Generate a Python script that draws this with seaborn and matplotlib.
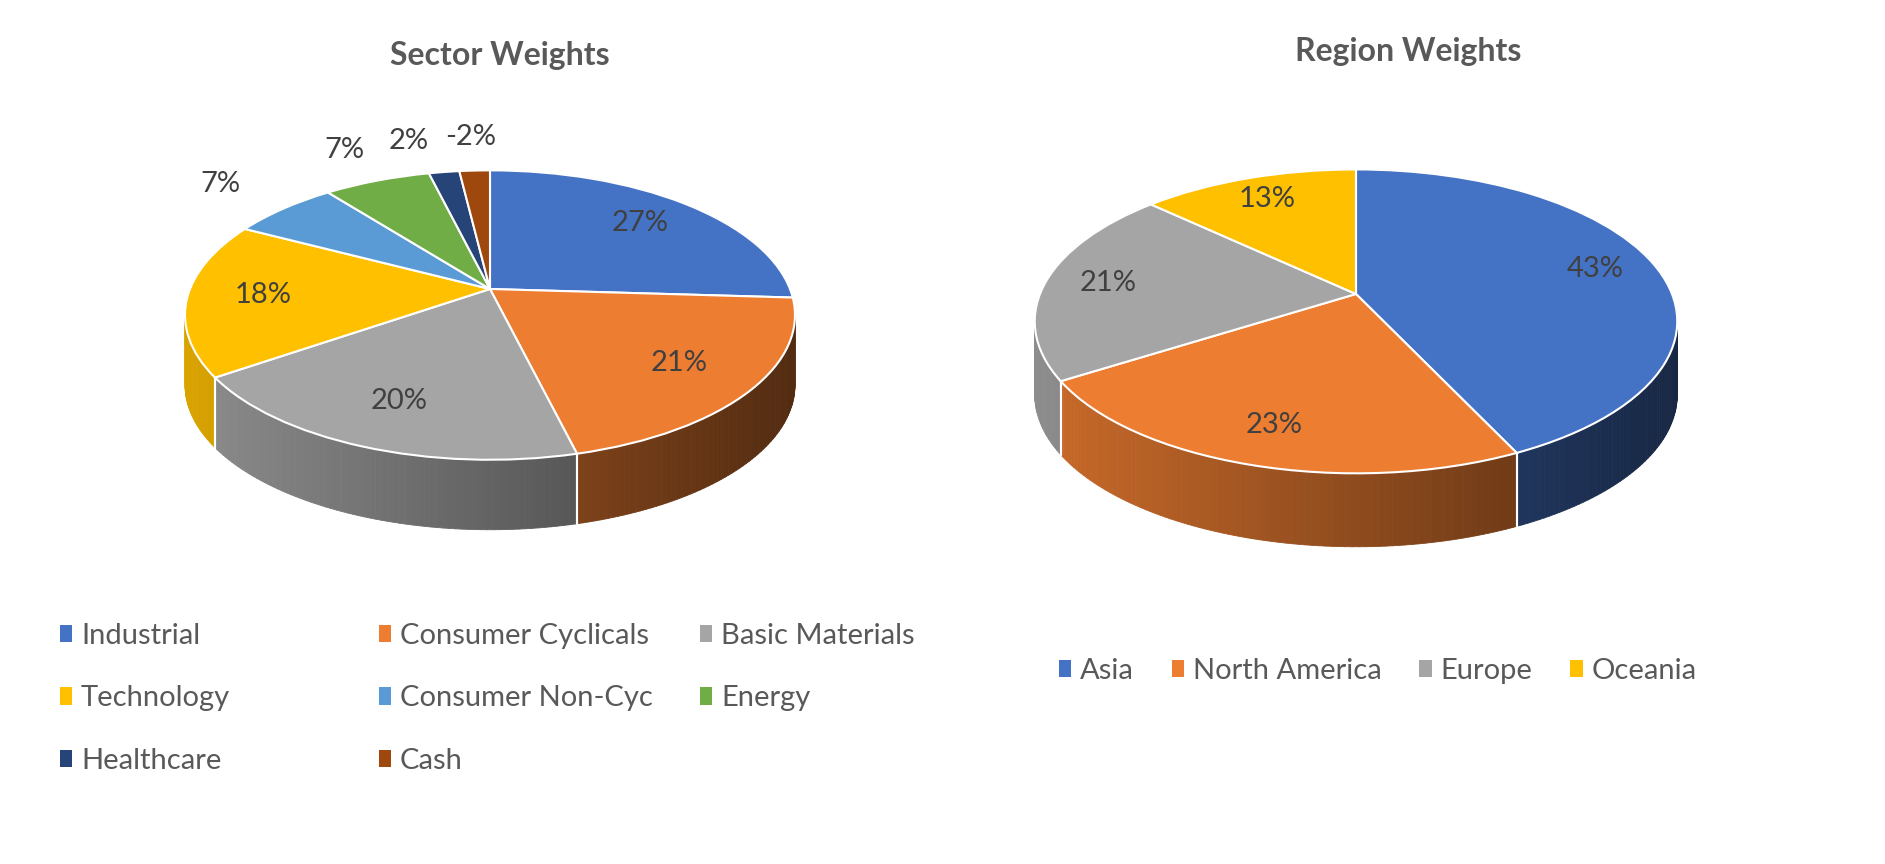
# Portfolio weights - two Excel style 3D pies (sector and region)

import numpy as np
import matplotlib
matplotlib.use("Agg")
import matplotlib.pyplot as plt
from matplotlib.patches import Patch
from matplotlib.collections import PolyCollection
from matplotlib.colors import to_rgb
from matplotlib.transforms import Transform
import seaborn as sns


# ------------------------------------------------------------
# 1. Data
# ------------------------------------------------------------

SECTOR_NAMES = ["Industrial", "Consumer Cyclicals", "Basic Materials", "Technology",
                "Consumer Non-Cyc", "Energy", "Healthcare", "Cash"]
SECTOR_WEIGHTS = [27, 21, 20, 18, 7, 7, 2, -2]
SECTOR_COLORS = ["#4472C4", "#ED7D31", "#A5A5A5", "#FFC000",
                 "#5B9BD5", "#70AD47", "#264478", "#9E480E"]

REGION_NAMES = ["Asia", "North America", "Europe", "Oceania"]
REGION_WEIGHTS = [43, 23, 21, 13]
REGION_COLORS = ["#4472C4", "#ED7D31", "#A5A5A5", "#FFC000"]

W, H = 1885, 864
TILT = 0.18      # perspective: far edge looks smaller than near edge
DEPTH = 0.5
LABEL_COLOR = "#404040"
TEXT_COLOR = "#595959"


# ------------------------------------------------------------
# 2. Helpers
# ------------------------------------------------------------

class TiltTransform(Transform):
    """Simple perspective squash of the unit pie (y > 0 is the far side)."""
    input_dims = output_dims = 2

    def __init__(self, k):
        super().__init__()
        self.k = k

    def transform_non_affine(self, xy):
        xy = np.atleast_2d(np.asarray(xy, float))
        d = 1 + self.k * xy[:, 1]
        return np.column_stack([xy[:, 0] / d, xy[:, 1] / d])


def draw_3d_pie(fig, apex_px, scale_px, values, colors, inner_r, outer_r):
    cx, cy = apex_px
    a, c = scale_px
    x0, x1, y0, y1 = -1.45, 1.45, -1.9, 1.6
    ax = fig.add_axes([(cx + x0 * a) / W, 1 - (cy - y0 * c) / H,
                       (x1 - x0) * a / W, (y1 - y0) * c / H])
    tilt = TiltTransform(TILT)

    sizes = np.abs(values)
    wedges, _ = ax.pie(sizes, colors=colors, startangle=90, counterclock=False,
                       wedgeprops=dict(edgecolor="white", linewidth=1.5, zorder=3))
    for w in wedges:
        w.set_transform(tilt + ax.transData)
    ax.set_aspect("auto")
    ax.set_xlim(x0, x1)
    ax.set_ylim(y0, y1)
    ax.axis("off")

    def rim(t):
        r = np.deg2rad(t)
        return tilt.transform([[np.cos(r), np.sin(r)]])[0]

    # front wall, split in thin strips so the shading can run left to right
    polys, fcs = [], []
    for w, col in zip(wedges, colors):
        base = np.array(to_rgb(col))
        steps = np.append(np.arange(w.theta1, w.theta2, 1.0), w.theta2)
        for t0, t1 in zip(steps[:-1], steps[1:]):
            if np.sin(np.deg2rad((t0 + t1) / 2)) >= -TILT:
                continue
            p0, p1 = rim(t0), rim(t1)
            polys.append([p0, p1, p1 - [0, DEPTH], p0 - [0, DEPTH]])
            shade = 0.6 - 0.25 * (p0[0] + p1[0]) / 2
            fcs.append(np.clip(base * shade, 0, 1))
    ax.add_collection(PolyCollection(polys, facecolors=fcs, edgecolors=fcs,
                                     linewidths=0.6, zorder=1))

    # white seams between slices on the wall
    for w in wedges:
        for t in (w.theta1, w.theta2):
            if np.sin(np.deg2rad(t)) < -TILT:
                p = rim(t)
                ax.plot([p[0], p[0]], [p[1], p[1] - DEPTH], color="white", lw=1.5, zorder=2)

    # data labels; small slices go outside and are nudged apart
    renderer = fig.canvas.get_renderer()
    last_box = None
    order = sorted(range(len(values)), key=lambda i: (wedges[i].theta1 + wedges[i].theta2) / 2)
    for i in order:
        w, v = wedges[i], values[i]
        mid = (w.theta1 + w.theta2) / 2
        inner = abs(v) >= 10
        r = inner_r if inner else outer_r
        while True:
            rad = np.deg2rad(mid)
            pos = tilt.transform([[r * np.cos(rad), r * np.sin(rad)]])[0]
            txt = ax.text(pos[0], pos[1], f"{v}%", ha="center", va="center",
                          fontsize=21, color=LABEL_COLOR, zorder=5)
            box = txt.get_window_extent(renderer).expanded(1.25, 1.0)
            if inner or last_box is None or not box.overlaps(last_box):
                break
            txt.remove()
            mid += 1.0
        if not inner:
            last_box = box
    return ax


def add_legend(fig, names, colors, x_px, y_px, ncol=1):
    handles = [Patch(facecolor=c, edgecolor="none", label=n) for n, c in zip(names, colors)]
    fig.legend(handles=handles, loc="upper left", bbox_to_anchor=(x_px / W, 1 - y_px / H),
               frameon=False, ncol=ncol, fontsize=21, handlelength=0.42, handleheight=0.55,
               handletextpad=0.3, borderpad=0, borderaxespad=0, labelspacing=1.25,
               columnspacing=1.3, labelcolor=TEXT_COLOR)


# ------------------------------------------------------------
# 3. Figure
# ------------------------------------------------------------

sns.set_style("white")
plt.rcParams["font.family"] = ["Lato", "DejaVu Sans"]

fig = plt.figure(figsize=(W / 100, H / 100), dpi=100)

draw_3d_pie(fig, (490, 289), (300, 140), SECTOR_WEIGHTS, SECTOR_COLORS, 0.75, 1.35)
draw_3d_pie(fig, (1356, 294), (316, 147), REGION_WEIGHTS, REGION_COLORS, 0.8, 1.35)

fig.text(500 / W, 1 - 55 / H, "Sector Weights", ha="center", va="center",
         fontsize=23, fontweight="bold", color=TEXT_COLOR)
fig.text(1408 / W, 1 - 52 / H, "Region Weights", ha="center", va="center",
         fontsize=23, fontweight="bold", color=TEXT_COLOR)

# left legend laid out in three equal columns, row by row like Excel
columns = [[0, 3, 6], [1, 4, 7], [2, 5]]
for col, x_px in zip(columns, [60, 379, 700]):
    add_legend(fig, [SECTOR_NAMES[i] for i in col], [SECTOR_COLORS[i] for i in col], x_px, 623)

add_legend(fig, REGION_NAMES, REGION_COLORS, 1059, 658, ncol=4)

fig.savefig("out.png", dpi=100, facecolor="white")
